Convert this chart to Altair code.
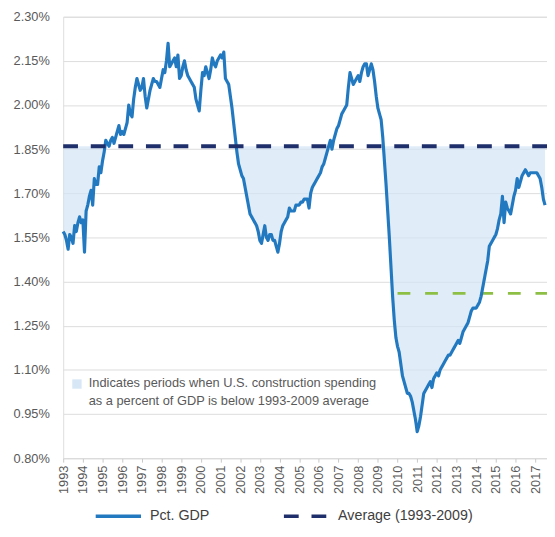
import altair as alt
import pandas as pd

# Monthly construction spending as % of GDP
pct_gdp = {
    1993: [1.57, 1.56, 1.54, 1.51, 1.56, 1.55, 1.53, 1.59, 1.57, 1.60, 1.62, 1.60],
    1994: [1.61, 1.50, 1.64, 1.66, 1.69, 1.71, 1.66, 1.75, 1.73, 1.73, 1.79, 1.77],
    1995: [1.81, 1.84, 1.88, 1.87, 1.86, 1.88, 1.89, 1.87, 1.89, 1.91, 1.93, 1.90],
    1996: [1.91, 1.90, 1.92, 1.94, 2.00, 1.97, 1.96, 2.02, 2.06, 2.09, 2.07, 2.05],
    1997: [2.06, 2.09, 2.03, 1.99, 2.02, 2.05, 2.07, 2.09, 2.08, 2.08, 2.07, 2.06],
    1998: [2.09, 2.12, 2.11, 2.15, 2.21, 2.13, 2.14, 2.15, 2.16, 2.13, 2.17, 2.09],
    1999: [2.10, 2.13, 2.15, 2.12, 2.10, 2.09, 2.08, 2.07, 2.06, 2.02, 2.00, 1.98],
    2000: [2.05, 2.11, 2.10, 2.13, 2.11, 2.09, 2.12, 2.16, 2.14, 2.13, 2.15, 2.16],
    2001: [2.17, 2.16, 2.18, 2.09, 2.08, 2.07, 2.03, 1.99, 1.94, 1.89, 1.84, 1.80],
    2002: [1.78, 1.76, 1.75, 1.72, 1.69, 1.66, 1.63, 1.62, 1.61, 1.60, 1.59, 1.57],
    2003: [1.54, 1.53, 1.56, 1.59, 1.55, 1.54, 1.56, 1.56, 1.54, 1.54, 1.52, 1.50],
    2004: [1.53, 1.57, 1.59, 1.60, 1.61, 1.62, 1.65, 1.64, 1.64, 1.64, 1.66, 1.66],
    2005: [1.66, 1.67, 1.67, 1.68, 1.68, 1.68, 1.65, 1.70, 1.72, 1.73, 1.74, 1.75],
    2006: [1.76, 1.77, 1.79, 1.80, 1.82, 1.84, 1.86, 1.88, 1.85, 1.88, 1.90, 1.92],
    2007: [1.93, 1.95, 1.97, 1.98, 1.99, 2.00, 2.06, 2.11, 2.09, 2.07, 2.08, 2.09],
    2008: [2.10, 2.08, 2.11, 2.13, 2.14, 2.14, 2.10, 2.12, 2.14, 2.12, 2.08, 2.03],
    2009: [1.99, 1.97, 1.95, 1.89, 1.81, 1.73, 1.64, 1.55, 1.45, 1.35, 1.27, 1.21],
    2010: [1.18, 1.16, 1.12, 1.08, 1.06, 1.04, 1.02, 1.02, 1.01, 0.99, 0.96, 0.93],
    2011: [0.89, 0.91, 0.94, 0.98, 1.02, 1.03, 1.04, 1.05, 1.06, 1.04, 1.07, 1.08],
    2012: [1.09, 1.08, 1.10, 1.11, 1.12, 1.13, 1.14, 1.15, 1.15, 1.16, 1.17, 1.18],
    2013: [1.19, 1.20, 1.19, 1.21, 1.23, 1.24, 1.25, 1.26, 1.28, 1.30, 1.31, 1.31],
    2014: [1.31, 1.32, 1.33, 1.35, 1.38, 1.41, 1.44, 1.47, 1.52, 1.53, 1.54, 1.55],
    2015: [1.56, 1.58, 1.61, 1.63, 1.69, 1.60, 1.67, 1.65, 1.64, 1.63, 1.66, 1.69],
    2016: [1.71, 1.75, 1.72, 1.74, 1.76, 1.77, 1.78, 1.77, 1.76, 1.77, 1.77, 1.77],
    2017: [1.77, 1.77, 1.76, 1.75, 1.72, 1.68, 1.66],
}

avg_value = 1.86          # Average (1993-2009)
green_value = 1.36        # green dashed reference level
green_start = 2010.0
x_end = 2017.6

year_ticks = list(range(1993, 2018))
y_ticks = [0.80, 0.95, 1.10, 1.25, 1.40, 1.55, 1.70, 1.85, 2.00, 2.15, 2.30]

series_names = ["Pct. GDP", "Average (1993-2009)"]
series_colors = ["#2279c0", "#1f2f6b"]
series_dash = [[1, 0], [15, 13]]

annotation_lines = [
    "Indicates periods when U.S. construction spending",
    "as a percent of GDP is below 1993-2009 average",
]

# ---- tables ----
rows = []
for yr, vals in pct_gdp.items():
    for m, v in enumerate(vals):
        rows.append({"t": yr + m / 12.0, "pct": v})
df = pd.DataFrame(rows)
df["series"] = series_names[0]
df["low"] = df["pct"].clip(upper=avg_value)
df["avg"] = avg_value

avg_df = pd.DataFrame({"pct": [avg_value], "series": [series_names[1]]})
green_df = pd.DataFrame({"x": [green_start], "x2": [x_end], "y": [green_value]})
note_df = pd.DataFrame({"x": [1993.7], "y": [1.052], "tx": [1994.3], "ty": [1.054]})

xs = alt.Scale(domain=[1993, x_end], nice=False, zero=False)
ys = alt.Scale(domain=[0.80, 2.30], nice=False, zero=False)

x_axis = alt.Axis(values=year_ticks, format="d", labelAngle=-90, grid=False,
                  domain=True, domainColor="#d9d9d9", ticks=True, tickColor="#c8c8c8",
                  tickSize=4, labelPadding=3, labelFontSize=13, labelColor="#595959",
                  labelFlush=False, labelOverlap=False, labelBound=False, title=None)
y_axis = alt.Axis(values=y_ticks, labelExpr="format(datum.value, '.2f') + '%'",
                  grid=True, gridColor="#dcdcdc", domain=False, ticks=False,
                  labelPadding=14, labelFontSize=13, labelColor="#595959", title=None)

color_scale = alt.Scale(domain=series_names, range=series_colors)
dash_scale = alt.Scale(domain=series_names, range=series_dash)
legend = alt.Legend(orient="none", legendX=31, legendY=482, direction="horizontal",
                    title=None, symbolType="stroke", symbolSize=2116,
                    symbolStrokeWidth=3.5, labelFontSize=14.5, labelColor="#404040",
                    labelOffset=7, columnPadding=68, padding=0)

X = alt.X("t:Q", scale=xs, axis=x_axis)

area = alt.Chart(df).mark_area(color="#d3e4f3", opacity=0.7).encode(
    x=X,
    y=alt.Y("low:Q", scale=ys, axis=y_axis),
    y2="avg:Q",
)

green = alt.Chart(green_df).mark_rule(color="#8dbf45", strokeWidth=3,
                                      strokeDash=[13, 15]).encode(
    x=alt.X("x:Q", scale=xs, axis=x_axis), x2="x2:Q",
    y=alt.Y("y:Q", scale=ys, axis=y_axis)
)

line = alt.Chart(df).mark_line(strokeWidth=3.2, strokeJoin="round").encode(
    x=X,
    y=alt.Y("pct:Q", scale=ys, axis=y_axis),
    color=alt.Color("series:N", scale=color_scale, legend=legend),
    strokeDash=alt.StrokeDash("series:N", scale=dash_scale, legend=legend),
)

avg_rule = alt.Chart(avg_df).mark_rule(strokeWidth=4).encode(
    y=alt.Y("pct:Q", scale=ys, axis=y_axis),
    color=alt.Color("series:N", scale=color_scale, legend=legend),
    strokeDash=alt.StrokeDash("series:N", scale=dash_scale, legend=legend),
)

note_box = alt.Chart(note_df).mark_square(size=90, color="#d8e7f5", opacity=1).encode(
    x=alt.X("x:Q", scale=xs, axis=x_axis), y=alt.Y("y:Q", scale=ys, axis=y_axis)
)
note_text = alt.Chart(note_df).mark_text(
    text=annotation_lines, align="left", baseline="middle", fontSize=13,
    lineHeight=18, color="#595959"
).encode(x=alt.X("tx:Q", scale=xs, axis=x_axis), y=alt.Y("ty:Q", scale=ys, axis=y_axis))

chart = alt.layer(area, green, line, avg_rule, note_box, note_text).properties(
    width=491, height=448, autosize="none",
    padding={"left": 56, "top": 5, "right": 0, "bottom": 68},
).configure_view(strokeWidth=0).configure(font="Liberation Sans").configure_axisX(
    labelOverlap=False
)

chart.save("out.html", embed_options={"renderer": "svg", "actions": False})
